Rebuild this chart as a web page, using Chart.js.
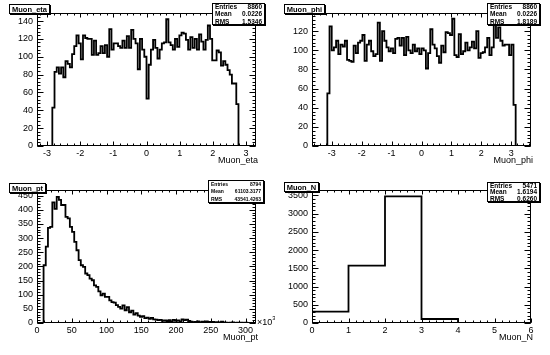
<!DOCTYPE html>
<html>
<head>
<meta charset="utf-8">
<script src="https://cdn.jsdelivr.net/npm/chart.js@4.4.1/dist/chart.umd.min.js"></script>
<style>
  html, body { margin: 0; padding: 0; background: #fff; }
  #wrap { position: relative; width: 550px; height: 355px; }
  #wrap canvas { position: absolute; }
</style>
</head>
<body>
<div id="wrap">
  <canvas id="c-eta" width="275" height="177" style="left:0;top:0"></canvas>
  <canvas id="c-phi" width="275" height="177" style="left:275px;top:0"></canvas>
  <canvas id="c-pt"  width="275" height="177" style="left:0;top:177px"></canvas>
  <canvas id="c-n"   width="275" height="177" style="left:275px;top:177px"></canvas>
</div>
<script>
/* ── histogram contents (bin counts) ── */
const etaRange = [-3.3, 3.3];
const etaCounts = [
  0, 0, 0, 0, 0, 0, 0,
  43, 83, 88, 81, 88, 77, 95, 92, 88, 103,
  112, 124, 115, 97, 124, 121, 120, 120, 102, 118,
  102, 104, 112, 104, 113, 100, 131, 108, 115, 115,
  112, 110, 118, 110, 123, 110, 130, 120, 115, 86,
  120, 108, 100, 53, 91, 108, 119, 110, 98, 108,
  115, 116, 142, 116, 113, 108, 120, 111, 124, 127,
  126, 119, 108, 122, 110, 120, 108, 125, 117, 108,
  119, 135, 120, 96, 96, 107, 105, 90, 95, 91,
  85, 80, 70, 70, 47,
  0, 0, 0, 0, 0, 0, 0, 0
];
const etaStats = [['Entries', '8860'], ['Mean', '0.0226'], ['RMS', '1.5346']];

const phiRange = [-3.66, 3.66];
const phiCounts = [
  0, 0, 0, 0, 0, 0, 0,
  55, 125, 100, 103, 110, 96, 106, 104, 110, 90,
  89, 88, 105, 97, 108, 110, 116, 89, 106, 110,
  99, 94, 96, 129, 89, 120, 110, 103, 99, 102,
  97, 112, 113, 105, 113, 95, 114, 100, 97, 106,
  99, 102, 96, 102, 100, 81, 97, 122, 106, 102,
  94, 87, 105, 98, 119, 118, 116, 133, 95, 93,
  117, 96, 99, 108, 100, 103, 109, 102, 120, 92,
  97, 98, 103, 113, 95, 103, 131, 113, 124, 110,
  105, 106, 106, 95, 106, 43,
  0, 0, 0, 0, 0, 0, 0
];
const phiStats = [['Entries', '8860'], ['Mean', '0.0226'], ['RMS', '1.8189']];

const ptRange = [0, 315];
const ptCounts = [
  0, 0, 0, 204, 270, 336, 340, 426, 403, 446,
  435, 417, 417, 375, 370, 340, 322, 287, 257, 222,
  204, 198, 175, 169, 157, 151, 133, 128, 112, 98,
  104, 92, 92, 80, 74, 72, 63, 57, 51, 62,
  45, 56, 38, 44, 30, 35, 26, 22, 24, 17,
  19, 15, 18, 13, 12, 10, 11, 8, 9, 7,
  10, 6, 11, 8, 9, 5, 13, 10, 12, 7,
  5, 3, 4, 6, 2, 5, 3, 6, 4, 3,
  4, 2, 3, 1, 5, 2, 1, 0, 1, 2,
  0, 1, 0, 1, 0, 1, 0, 0, 0, 0
];
const ptStats = [['Entries', '8794'], ['Mean', '61103.3177'], ['RMS', '43541.4263']];

const nRange = [0, 6];
const nCounts = [311, 1574, 3474, 110, 2, 0];
const nStats = [['Entries', '5471'], ['Mean', '1.6194'], ['RMS', '0.6260']];

const FONT = '"Liberation Sans", Arial, Helvetica, sans-serif';

/* bins -> step points (lower edges + closing upper edge) */
function histPoints(counts, range) {
  const w = (range[1] - range[0]) / counts.length;
  const pts = counts.map((c, i) => ({ x: range[0] + i * w, y: c }));
  pts.push({ x: range[1], y: counts[counts.length - 1] });
  return pts;
}

/* multiples of step inside [min, max] */
function stepsIn(min, max, step) {
  const out = [];
  const k0 = Math.ceil(min / step - 1e-6), k1 = Math.floor(max / step + 1e-6);
  for (let k = k0; k <= k1; k++) out.push(Math.round(k * step * 1e6) / 1e6);
  return out;
}

/* ROOT-ish pad decorations: frame, inward ticks, title & stats boxes */
const rootPad = {
  id: 'rootPad',
  afterDraw(chart, args, o) {
    const { ctx, chartArea: a } = chart;
    const sx = chart.scales.x, sy = chart.scales.y;
    const L = Math.round(a.left) + 0.5, R = Math.round(a.right) - 0.5;
    const T = Math.round(a.top) + 0.5, B = Math.round(a.bottom) - 0.5;
    const marks = (scale, step) =>
      stepsIn(scale.min, scale.max, step).map(v => Math.round(scale.getPixelForValue(v)) + 0.5);
    ctx.save();
    ctx.strokeStyle = '#000';
    ctx.lineWidth = 1;
    ctx.beginPath();
    [[o.xMajor, 4], [o.xMinor, 2]].forEach(([step, len]) => marks(sx, step).forEach(px => {
      ctx.moveTo(px, B); ctx.lineTo(px, B - len);
      ctx.moveTo(px, T); ctx.lineTo(px, T + len);
    }));
    [[o.yMajor, 6], [o.yMinor, 3]].forEach(([step, len]) => marks(sy, step).forEach(py => {
      ctx.moveTo(L, py); ctx.lineTo(L + len, py);
      ctx.moveTo(R, py); ctx.lineTo(R - len, py);
    }));
    ctx.stroke();
    ctx.strokeRect(L, T, R - L, B - T);

    const box = (b) => {
      ctx.fillStyle = '#000';
      ctx.fillRect(b.x + 1, b.y + 1, b.w, b.h);
      ctx.fillStyle = '#fff';
      ctx.fillRect(b.x, b.y, b.w, b.h);
      ctx.strokeRect(b.x + 0.5, b.y + 0.5, b.w - 1, b.h - 1);
    };

    // histogram title, box sized round the text
    const t = o.title;
    ctx.font = 'bold 7.5px ' + FONT;
    const tw = Math.ceil(ctx.measureText(t.text).width) + 5;
    box({ x: t.x, y: t.y, w: tw, h: t.h });
    ctx.fillStyle = '#000';
    ctx.textAlign = 'center';
    ctx.textBaseline = 'middle';
    ctx.fillText(t.text, t.x + tw / 2, t.y + t.h / 2 + 0.5);

    // statistics box
    const s = o.stats;
    box(s);
    ctx.fillStyle = '#000';
    ctx.font = 'bold ' + s.size + 'px ' + FONT;
    s.rows.forEach(([k, v], i) => {
      const yy = s.y + s.h * (i + 0.5) / s.rows.length + 0.5;
      ctx.textAlign = 'left';
      ctx.fillText(k, s.x + 3, yy);
      ctx.textAlign = 'right';
      ctx.fillText(v, s.x + s.w - 3, yy);
    });

    // axis title
    ctx.font = '9px ' + FONT;
    ctx.textAlign = 'right';
    ctx.fillText(o.xTitle, a.right + 2, 161);

    // axis exponent
    if (o.exponent) {
      ctx.textAlign = 'left';
      ctx.textBaseline = 'alphabetic';
      ctx.font = '9px ' + FONT;
      ctx.fillText('\u00d710', a.right + 1, a.bottom + 2);
      const w = ctx.measureText('\u00d710').width;
      ctx.font = '6px ' + FONT;
      ctx.fillText(o.exponent, a.right + 1 + w, a.bottom - 3);
    }
    ctx.restore();
  }
};

function makeHist(canvasId, counts, range, yMax, pad) {
  const tickFont = { family: FONT, size: 9 };
  return new Chart(document.getElementById(canvasId), {
    type: 'line',
    data: {
      datasets: [{
        data: histPoints(counts, range),
        stepped: true,
        borderColor: '#000',
        borderWidth: 1.8,
        pointRadius: 0,
        fill: false
      }]
    },
    options: {
      responsive: false,
      animation: false,
      devicePixelRatio: 1,
      layout: { padding: { left: 0, top: 13, right: 19, bottom: 0 } },
      plugins: { legend: { display: false }, tooltip: { enabled: false }, rootPad: pad },
      scales: {
        x: {
          type: 'linear', min: range[0], max: range[1],
          afterFit: s => { s.height = 31; },
          afterBuildTicks: s => { s.ticks = stepsIn(range[0], range[1], pad.xMajor).map(v => ({ value: v })); },
          grid: { display: false, drawTicks: false },
          border: { display: false },
          ticks: {
            autoSkip: false, maxRotation: 0,
            padding: 2, color: '#000', font: tickFont, callback: v => String(v)
          }
        },
        y: {
          min: 0, max: yMax,
          afterFit: s => { s.width = 37; },
          afterBuildTicks: s => { s.ticks = stepsIn(0, yMax, pad.yMajor).map(v => ({ value: v })); },
          grid: { display: false, drawTicks: false },
          border: { display: false },
          ticks: {
            autoSkip: false,
            padding: 4, color: '#000', font: tickFont, callback: v => String(v)
          }
        }
      }
    },
    plugins: [rootPad]
  });
}

makeHist('c-eta', etaCounts, etaRange, 149, {
  xMajor: 1, xMinor: 0.2, yMajor: 20, yMinor: 4, xTitle: 'Muon_eta',
  title: { text: 'Muon_eta', x: 9, y: 4, h: 10 },
  stats: { x: 212, y: 3, w: 53, h: 22, size: 6.5, rows: etaStats }
});
makeHist('c-phi', phiCounts, phiRange, 139, {
  xMajor: 1, xMinor: 0.2, yMajor: 20, yMinor: 4, xTitle: 'Muon_phi',
  title: { text: 'Muon_phi', x: 9, y: 4, h: 10 },
  stats: { x: 212, y: 3, w: 53, h: 22, size: 6.5, rows: phiStats }
});
makeHist('c-pt', ptCounts, ptRange, 470, {
  xMajor: 50, xMinor: 10, yMajor: 50, yMinor: 10, xTitle: 'Muon_pt', exponent: '3',
  title: { text: 'Muon_pt', x: 9, y: 6, h: 10 },
  stats: { x: 208, y: 3, w: 56, h: 23, size: 5, rows: ptStats }
});
makeHist('c-n', nCounts, nRange, 3650, {
  xMajor: 1, xMinor: 0.2, yMajor: 500, yMinor: 100, xTitle: 'Muon_N',
  title: { text: 'Muon_N', x: 9, y: 5, h: 10 },
  stats: { x: 212, y: 5, w: 53, h: 20, size: 6.5, rows: nStats }
});
</script>
</body>
</html>
